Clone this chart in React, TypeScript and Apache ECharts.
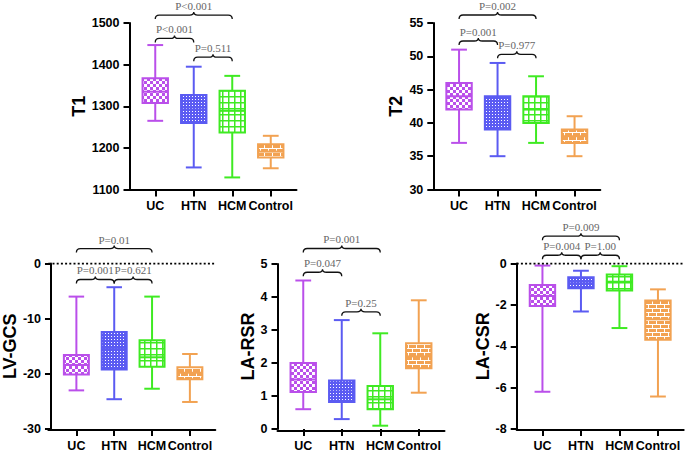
import React, { useEffect, useRef } from 'react';
import * as echarts from 'echarts';

const categories = ['UC', 'HTN', 'HCM', 'Control'];

// Each row: [min, Q1, median, Q3, max]
const t1Stats = [
  [1265, 1308, 1335, 1367, 1447],
  [1153, 1260, 1297, 1327, 1395],
  [1129, 1237, 1289, 1337, 1373],
  [1151, 1177, 1191, 1209, 1229],
];
const t2Stats = [
  [37, 42, 44, 46, 51],
  [35, 39, 42, 44, 49],
  [37, 40, 42, 44, 47],
  [35, 37, 38, 39, 41],
];
const lvgcsStats = [
  [-23.0, -20.1, -18.4, -16.6, -6.0],
  [-24.6, -19.2, -15.3, -12.4, -4.3],
  [-22.7, -18.7, -17.0, -13.9, -6.0],
  [-25.1, -21.0, -19.8, -18.8, -16.4],
];
const larsrStats = [
  [0.6, 1.12, 1.5, 2.0, 4.5],
  [0.3, 0.82, 1.2, 1.47, 3.3],
  [0.1, 0.6, 0.9, 1.3, 2.9],
  [1.1, 1.84, 2.2, 2.6, 3.9],
];
const lacsrStats = [
  [-6.2, -2.05, -1.57, -1.04, -0.1],
  [-2.32, -1.2, -0.88, -0.67, -0.35],
  [-3.12, -1.31, -0.88, -0.53, -0.13],
  [-6.43, -3.68, -2.7, -1.79, -1.25],
];

// Comparisons: [fromCategory, toCategory, label]
const t1Brackets = [[0, 2, 'P<0.001'], [0, 1, 'P<0.001'], [1, 2, 'P=0.511']];
const t2Brackets = [[0, 2, 'P=0.002'], [0, 1, 'P=0.001'], [1, 2, 'P=0.977']];
const lvgcsBrackets = [[0, 2, 'P=0.01'], [0, 1, 'P=0.001'], [1, 2, 'P=0.621']];
const larsrBrackets = [[0, 2, 'P=0.001'], [0, 1, 'P=0.047'], [1, 2, 'P=0.25']];
const lacsrBrackets = [[0, 2, 'P=0.009'], [0, 1, 'P=0.004'], [1, 2, 'P=1.00']];

// bracket heights in data units (layout)
const t1Levels = [1519, 1463, 1418];
const t2Levels = [56.2, 52.3, 50.3];
const lvgcsLevels = [2.7, -2.9, -2.9];
const larsrLevels = [5.47, 4.75, 3.55];
const lacsrLevels = [1.32, 0.4, 0.4];

const colors = ['#BA4FEA', '#5B5BF2', '#3FEA22', '#F2A252'];
const FONT = '"Liberation Sans", Arial, sans-serif';

function makePattern(kind: string, color: string) {
  const c = document.createElement('canvas');
  let w = 6, h = 6;
  if (kind === 'dots') { w = 3; h = 3; }
  if (kind === 'brick') { w = 8; h = 8; }
  c.width = w; c.height = h;
  const g = c.getContext('2d')!;
  if (kind === 'checker') {
    g.fillStyle = color; g.fillRect(0, 0, 6, 6);
    g.fillStyle = '#fff'; g.fillRect(0, 0, 3, 3); g.fillRect(3, 3, 3, 3);
  } else if (kind === 'dots') {
    g.fillStyle = color; g.fillRect(0, 0, 3, 3);
    g.fillStyle = '#fff'; g.fillRect(0, 0, 1, 1);
  } else if (kind === 'grid') {
    g.fillStyle = '#fff'; g.fillRect(0, 0, 6, 6);
    g.fillStyle = color; g.fillRect(0, 0, 6, 1.5); g.fillRect(0, 0, 1.5, 6);
  } else {
    g.fillStyle = color; g.fillRect(0, 0, 8, 8);
    g.fillStyle = '#fff';
    g.fillRect(0, 0, 8, 1); g.fillRect(0, 4, 8, 1);
    g.fillRect(0, 0, 1, 4); g.fillRect(4, 4, 1, 4);
  }
  return { image: c, repeat: 'repeat', imageWidth: w, imageHeight: h } as any;
}

const panels = [
  { title: 'T1', stats: t1Stats, brackets: t1Brackets, levels: t1Levels, min: 1100, max: 1500, interval: 100, left: 129.5, top: 23, height: 166.5, nameGap: 40, zero: false },
  { title: 'T2', stats: t2Stats, brackets: t2Brackets, levels: t2Levels, min: 30, max: 55, interval: 5, left: 433.3, top: 23, height: 166.5, nameGap: 24, zero: false },
  { title: 'LV-GCS', stats: lvgcsStats, brackets: lvgcsBrackets, levels: lvgcsLevels, min: -30, max: 0, interval: 10, left: 48.3, top: 263.5, height: 166.7, nameGap: 19, zero: true },
  { title: 'LA-RSR', stats: larsrStats, brackets: larsrBrackets, levels: larsrLevels, min: 0, max: 5, interval: 1, left: 277.5, top: 264, height: 166.5, nameGap: 16, zero: false },
  { title: 'LA-CSR', stats: lacsrStats, brackets: lacsrBrackets, levels: lacsrLevels, min: -8, max: 0, interval: 2, left: 516.7, top: 263.5, height: 166.7, nameGap: 19, zero: true },
];

export default function App() {
  const ref = useRef<HTMLDivElement>(null);
  useEffect(() => {
    const chart = echarts.init(ref.current!, null, { renderer: 'svg' });
    const kinds = ['checker', 'dots', 'grid', 'brick'];
    const patterns = colors.map((c, i) => makePattern(kinds[i], c));
    const PAD = 6.5;
    const AXW = 167;

    const grid: any[] = [];
    const xAxis: any[] = [];
    const yAxis: any[] = [];
    const series: any[] = [];

    panels.forEach((p, i) => {
      const gBox = 2 * i;
      const gExt = 2 * i + 1;
      grid.push({ left: p.left + PAD, top: p.top, width: AXW - 2 * PAD, height: p.height });
      grid.push({ left: p.left, top: p.top, width: AXW, height: p.height });
      xAxis.push({
        type: 'category', gridIndex: gBox, data: categories,
        axisLine: { show: false, onZero: false },
        axisTick: { show: true, alignWithLabel: true, length: 7, lineStyle: { color: '#000', width: 2 } },
        axisLabel: { interval: 0, margin: 10, color: '#000', fontWeight: 'bold', fontSize: 12.5, fontFamily: FONT },
        splitLine: { show: false },
      });
      xAxis.push({
        type: 'value', gridIndex: gExt, min: 0, max: 1,
        axisLine: { show: true, onZero: false, lineStyle: { color: '#000', width: 2 } },
        axisTick: { show: false }, axisLabel: { show: false }, splitLine: { show: false },
      });
      yAxis.push({
        type: 'value', gridIndex: gBox, min: p.min, max: p.max, interval: p.interval,
        position: 'left', offset: PAD,
        name: p.title, nameLocation: 'middle', nameGap: p.nameGap, nameRotate: 90,
        nameTextStyle: { color: '#000', fontWeight: 'bold', fontSize: 18, fontFamily: FONT },
        axisLine: { show: true, onZero: false, lineStyle: { color: '#000', width: 2 } },
        axisTick: { show: true, length: 6, lineStyle: { color: '#000', width: 2 } },
        axisLabel: { margin: 10, color: '#000', fontWeight: 'bold', fontSize: 12.5, fontFamily: FONT, formatter: (v: number) => String(v) },
        splitLine: { show: false },
      });
      yAxis.push({ type: 'value', gridIndex: gExt, min: p.min, max: p.max, show: false });

      if (p.zero) {
        series.push({
          type: 'line', xAxisIndex: gExt, yAxisIndex: gExt, data: [[0, 0], [1, 0]],
          symbol: 'none', silent: true,
          lineStyle: { color: '#000', width: 2, type: [2, 2.2] },
        });
      }

      series.push({
        type: 'custom', xAxisIndex: gBox, yAxisIndex: gBox,
        data: p.stats.map((s, k) => [k, ...s]),
        encode: { x: 0, y: [1, 2, 3, 4, 5] },
        renderItem: (params: any, api: any) => {
          const k = api.value(0);
          const col = colors[k];
          const bw = api.size([1, 0])[0];
          const boxW = bw * 0.66;
          const capW = bw * 0.41;
          const pMin = api.coord([k, api.value(1)]);
          const pQ1 = api.coord([k, api.value(2)]);
          const pMed = api.coord([k, api.value(3)]);
          const pQ3 = api.coord([k, api.value(4)]);
          const pMax = api.coord([k, api.value(5)]);
          const x = pMin[0];
          const ls = { stroke: col, lineWidth: 2 };
          return {
            type: 'group',
            children: [
              { type: 'line', shape: { x1: x, y1: pMax[1], x2: x, y2: pMin[1] }, style: ls },
              { type: 'line', shape: { x1: x - capW / 2, y1: pMax[1], x2: x + capW / 2, y2: pMax[1] }, style: ls },
              { type: 'line', shape: { x1: x - capW / 2, y1: pMin[1], x2: x + capW / 2, y2: pMin[1] }, style: ls },
              { type: 'rect', shape: { x: x - boxW / 2, y: pQ3[1], width: boxW, height: pQ1[1] - pQ3[1] }, style: { fill: patterns[k], stroke: col, lineWidth: 2 } },
              { type: 'line', shape: { x1: x - boxW / 2, y1: pMed[1], x2: x + boxW / 2, y2: pMed[1] }, style: ls },
            ],
          };
        },
      });

      series.push({
        type: 'custom', xAxisIndex: gBox, yAxisIndex: gBox, clip: false,
        data: p.brackets.map((b, k) => [b[0], b[1], p.levels[k]]),
        encode: { x: [0, 1], y: 2 },
        renderItem: (params: any, api: any) => {
          const a = api.coord([api.value(0), api.value(2)]);
          const b = api.coord([api.value(1), api.value(2)]);
          const x1 = a[0], x2 = b[0], y = a[1], xm = (x1 + x2) / 2;
          const d = `M${x1} ${y + 4} Q${x1} ${y} ${x1 + 4} ${y} L${xm - 4} ${y} Q${xm} ${y} ${xm} ${y - 3} Q${xm} ${y} ${xm + 4} ${y} L${x2 - 4} ${y} Q${x2} ${y} ${x2} ${y + 4}`;
          const label = p.brackets[params.dataIndex][2] as string;
          return {
            type: 'group',
            children: [
              { type: 'path', shape: { pathData: d }, style: { stroke: '#111', fill: 'none', lineWidth: 1.3 } },
              { type: 'text', style: { text: label, x: xm, y: y - 9, align: 'center', verticalAlign: 'middle', fill: '#666', font: '11px "Liberation Serif", "Times New Roman", serif' } },
            ],
          };
        },
      });
    });

    chart.setOption({ animation: false, grid, xAxis, yAxis, series });
    return () => chart.dispose();
  }, []);
  return <div ref={ref} style={{ position: 'fixed', left: 0, top: 0, width: 685, height: 452, background: '#fff' }} />;
}
